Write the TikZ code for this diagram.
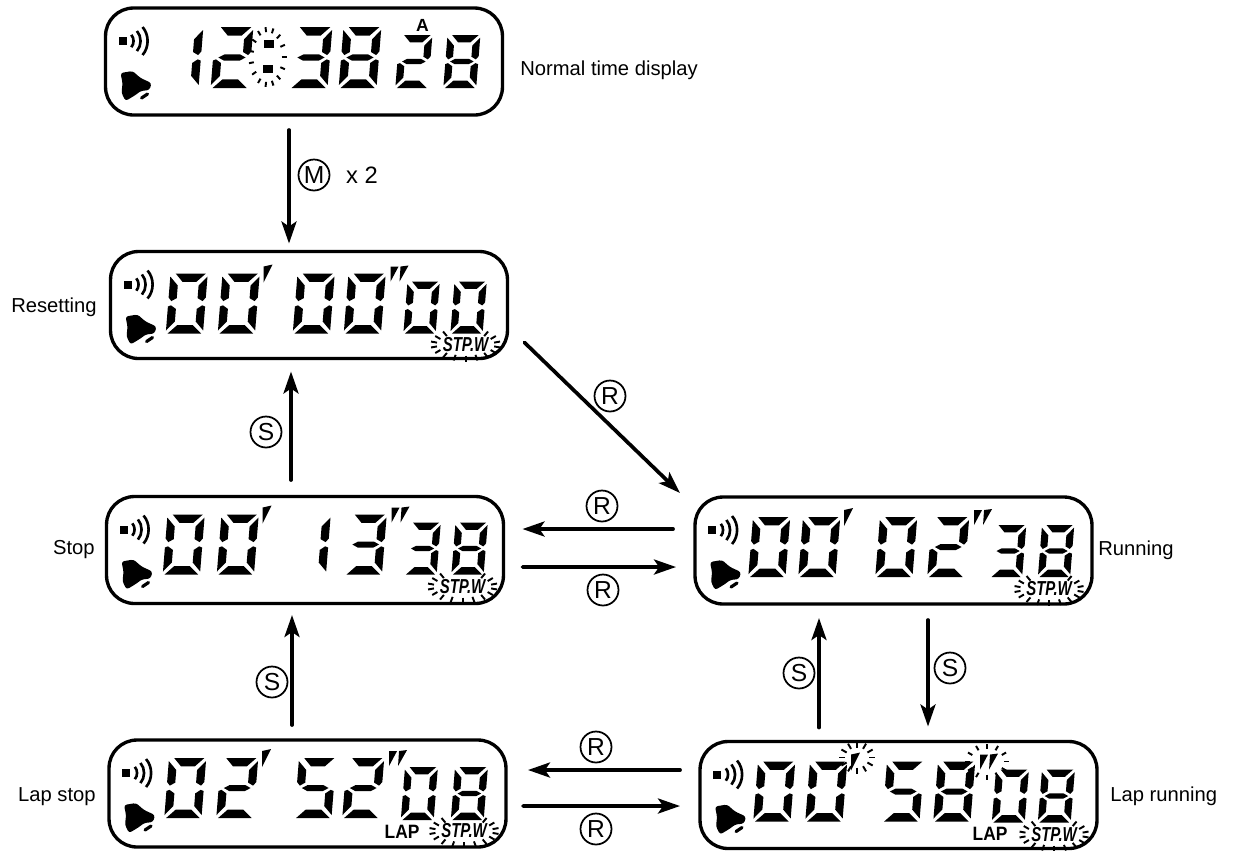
\documentclass[tikz,border=0pt]{standalone}
\usepackage{fontspec}
\setmainfont{Liberation Sans}
\usetikzlibrary{arrows.meta}
\tikzset{
  panel/.style={draw, line width=1.9pt, rounded corners=0.56cm, minimum width=7.94cm, minimum height=2.14cm, inner sep=0pt, outer sep=0pt},
  arr/.style={-{Stealth[length=0.44cm, width=0.3cm, inset=0.1cm]}, line width=2.1pt, line cap=round},
  lbl/.style={font=\fontsize{11.5}{13}\selectfont, inner sep=0pt},
  btn/.style={draw, circle, line width=1pt, minimum size=0.62cm, inner sep=0pt, font=\fontsize{14}{14}\selectfont},
  lcdword/.style={xscale=0.74, inner sep=0pt, font=\fontsize{11.5}{12}\selectfont\bfseries\itshape},
  lapword/.style={xscale=0.9, inner sep=0pt, font=\fontsize{11}{12}\selectfont\bfseries},
  flash/.style={line width=1.1pt},
  seg a/.style={insert path={(.14,0) -- (.95,0) -- (.71,.14) -- (.34,.14) -- cycle}},
  seg b/.style={insert path={(1,.05) -- (1,.40) -- (.92,.46) -- (.78,.41) -- (.78,.2) -- cycle}},
  seg c/.style={insert path={(1,.55) -- (1,.95) -- (.78,.8) -- (.78,.59) -- (.92,.53) -- cycle}},
  seg d/.style={insert path={(.05,1) -- (.29,.86) -- (.71,.86) -- (.95,1) -- cycle}},
  seg e/.style={insert path={(0,.55) -- (0,.95) -- (.22,.8) -- (.22,.59) -- (.08,.53) -- cycle}},
  seg f/.style={insert path={(0,.05) -- (0,.40) -- (.08,.46) -- (.22,.41) -- (.22,.2) -- cycle}},
  seg g/.style={insert path={(.14,.5) -- (.29,.45) -- (.71,.45) -- (.86,.5) -- (.71,.55) -- (.29,.55) -- cycle}},
}
\expandafter\def\csname lcd0\endcsname{a,b,c,d,e,f}
\expandafter\def\csname lcd1\endcsname{b,c}
\expandafter\def\csname lcd2\endcsname{a,b,g,e,d}
\expandafter\def\csname lcd3\endcsname{a,b,g,c,d}
\expandafter\def\csname lcd5\endcsname{a,f,g,c,d}
\expandafter\def\csname lcd8\endcsname{a,b,c,d,e,f,g}
% x, y, height, digit
\newcommand{\lcddigit}[4]{%
  \begin{scope}[shift={(#1-3,#2)}, xslant=.08, xscale=.62*#3, yscale=#3]
    \edef\segs{\csname lcd#4\endcsname}
    \foreach \s in \segs {\fill[seg \s];}
  \end{scope}}
% centre x, y, radii x, y, tick length, angles
\newcommand{\lcdflash}[6]{%
  \foreach \a in {#6}
    \draw[flash] ({#1+#3*cos(\a)},{#2+#4*sin(\a)}) -- ({#1+(#3+#5)*cos(\a)},{#2+(#4+#5)*sin(\a)});}
% sound mark and bell
\newcommand{\lcdicons}{%
  \fill (13,29) rectangle (21,37);
  \foreach \r in {11,18,25}
    \draw[line width=1.5pt] ({17+.8*\r},{33-.56*\r}) .. controls ({17+1.07*\r},{33-.25*\r}) and ({17+1.07*\r},{33+.25*\r}) .. ({17+.8*\r},{33+.56*\r});
  \fill[rounded corners=1.5pt] (15,65) -- (27,63) -- (35,70) -- (46,75) -- (44,82) -- (35,83) -- (30,87) -- (20,93) -- (16,85) -- (17,75) -- cycle;
  \draw[line width=1.8pt, line cap=round] (36,90) -- (42,86);}
% minute and second marks, y of the big digits, x of the two pairs
\newcommand{\lcdmarks}[3]{%
  \fill (#2+38,#1-7) -- (#2+47,#1-9) -- (#2+38,#1+9) -- cycle;
  \fill (#3+39,#1-7) -- (#3+47,#1-7) -- (#3+39,#1+8) -- cycle;
  \fill (#3+49,#1-7) -- (#3+57,#1-8) -- (#3+48,#1+8) -- cycle;}
\newcommand{\lcdstpw}[3]{%
  \node[lcdword] (#1) at (#2,#3) {STP.W};
  \lcdflash{#2}{#3}{29}{11}{6}{-50,-30,...,230}}

\begin{document}
\begin{tikzpicture}[x=0.02cm, y=-0.02cm]
  \useasboundingbox (0,0) rectangle (1237,850);
  \node[panel] (normal)  at (304,61.5)  {};
  \node[panel] (reset)   at (309,305)   {};
  \node[panel] (stop)    at (305,550)   {};
  \node[panel] (running) at (893.5,550.5) {};
  \node[panel] (lapstop) at (307.5,793.5) {};
  \node[panel] (laprun)  at (898.5,795) {};

  \node[lbl, anchor=west] (lnormal) at (520,70) {Normal time display};
  \node[lbl, anchor=east] (lreset) at (97,307) {Resetting};
  \node[lbl, anchor=east] (lstop) at (95,550) {Stop};
  \node[lbl, anchor=west] (lrunning) at (1098,550) {Running};
  \node[lbl, anchor=east] (llapstop) at (96,797) {Lap stop};
  \node[lbl, anchor=west] (llaprun) at (1110,796) {Lap running};

  % the readouts
  \begin{scope}[shift={(normal.north west)}]
    \lcdicons
    \foreach \dx/\dg in {63/1,113/2,192/3,241/8} \lcddigit{\dx}{19}{61}{\dg};
    \foreach \dx/\dg in {297/2,345/8} \lcddigit{\dx}{27}{53}{\dg};
    \fill (158,32) rectangle (168,40);
    \fill (157,57) rectangle (167,65);
    \lcdflash{162}{49}{14}{25}{5}{0,24,...,336}
    \node[font=\fontsize{10}{11}\selectfont\bfseries, inner sep=0pt] (alarm) at (317,17) {A};
  \end{scope}
  \begin{scope}[shift={(reset.north west)}]
    \lcdicons
    \foreach \dx/\dg in {63/0,115/0,190/0,241/0} \lcddigit{\dx}{22}{60}{\dg};
    \foreach \dx/\dg in {300/0,347/0} \lcddigit{\dx}{30}{52}{\dg};
    \lcdmarks{22}{115}{241}
    \lcdstpw{stpwa}{355}{93}
  \end{scope}
  \begin{scope}[shift={(stop.north west)}]
    \lcdicons
    \foreach \dx/\dg in {64/0,118/0,190/1,246/3} \lcddigit{\dx}{18}{60}{\dg};
    \foreach \dx/\dg in {305/3,352/8} \lcddigit{\dx}{26}{52}{\dg};
    \lcdmarks{18}{118}{246}
    \lcdstpw{stpwb}{356}{90}
  \end{scope}
  \begin{scope}[shift={(running.north west)}]
    \lcdicons
    \foreach \dx/\dg in {61/0,111/0,188/0,240/2} \lcddigit{\dx}{20}{60}{\dg};
    \foreach \dx/\dg in {302/3,350/8} \lcddigit{\dx}{28}{52}{\dg};
    \lcdmarks{20}{111}{240}
    \lcdstpw{stpwc}{354}{92}
  \end{scope}
  \begin{scope}[shift={(lapstop.north west)}]
    \lcdicons
    \foreach \dx/\dg in {63/0,115/2,193/5,241/2} \lcddigit{\dx}{18}{60}{\dg};
    \foreach \dx/\dg in {299/0,349/8} \lcddigit{\dx}{27}{53}{\dg};
    \lcdmarks{18}{115}{241}
    \node[lapword] (lapa) at (293,92) {LAP};
    \lcdstpw{stpwd}{355}{91}
  \end{scope}
  \begin{scope}[shift={(laprun.north west)}]
    \lcdicons
    \foreach \dx/\dg in {61/0,113/0,190/5,241/8} \lcddigit{\dx}{20}{60}{\dg};
    \foreach \dx/\dg in {299/0,345/8} \lcddigit{\dx}{28}{53}{\dg};
    \lcdmarks{20}{113}{241}
    \lcdflash{157}{16}{12}{10}{6}{0,30,...,330}
    \lcdflash{287}{20}{17}{13}{5}{0,30,...,330}
    \node[lapword] (lapb) at (290,92) {LAP};
    \lcdstpw{stpwe}{354}{93}
  \end{scope}

  % the button presses
  \draw[arr] ([shift={(-15,15)}]normal.south) -- ([shift={(-20,-8)}]reset.north);
  \draw[arr] ([shift={(-14,-16.5)}]stop.north) -- ([shift={(-18,13)}]reset.south);
  \draw[arr] ([shift={(17,-16)}]reset.south east) -- ([shift={(-15,-4)}]running.north west);
  \draw[arr] ([shift={(-22,-21.5)}]running.west) -- ([shift={(19,-21)}]stop.east);
  \draw[arr] ([shift={(19,17)}]stop.east) -- ([shift={(-19,16.5)}]running.west);
  \draw[arr] ([shift={(-15.5,-15)}]lapstop.north) -- ([shift={(-13,11.5)}]stop.south);
  \draw[arr] ([shift={(-20,-25)}]laprun.west) -- ([shift={(22,-23.5)}]lapstop.east);
  \draw[arr] ([shift={(17,12.5)}]lapstop.east) -- ([shift={(-20,11)}]laprun.west);
  \draw[arr] ([shift={(-79.5,-14)}]laprun.north) -- ([shift={(-74.5,14)}]running.south);
  \draw[arr] ([shift={(34.5,16)}]running.south) -- ([shift={(29.5,-15)}]laprun.north);

  \node[btn] (bm) at (314,175) {M};
  \node[lbl, font=\fontsize{13.5}{14}\selectfont] (times) at (362,175) {x 2};
  \node[btn] (bsa) at (266,432) {S};
  \node[btn] (bra) at (610,396) {R};
  \node[btn] (brb) at (602,506) {R};
  \node[btn] (brc) at (603,590) {R};
  \node[btn] (bsb) at (272,682) {S};
  \node[btn] (brd) at (596,747) {R};
  \node[btn] (bre) at (596,829) {R};
  \node[btn] (bsc) at (799,673) {S};
  \node[btn] (bsd) at (950,668) {S};
\end{tikzpicture}
\end{document}
